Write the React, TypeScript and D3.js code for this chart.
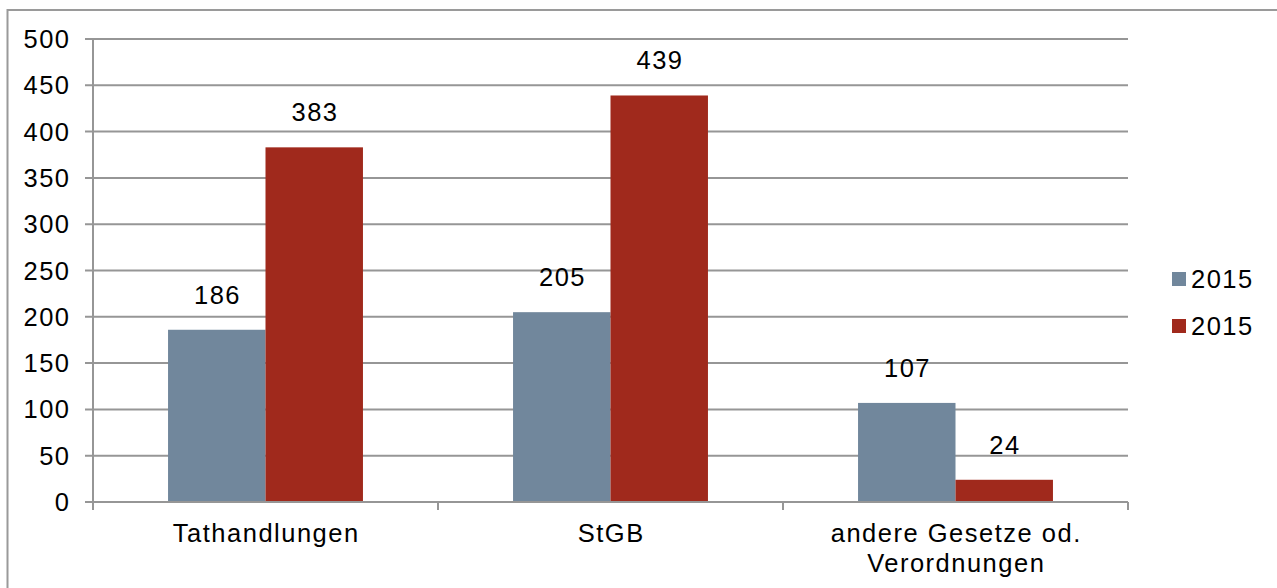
import React from "react";
import * as d3 from "d3";

const categories: string[][] = [["Tathandlungen"], ["StGB"], ["andere Gesetze od.", "Verordnungen"]];
const seriesA: number[] = [186, 205, 107];
const seriesB: number[] = [383, 439, 24];
const seriesNames: string[] = ["2015", "2015"];
const yTicks: number[] = [0, 50, 100, 150, 200, 250, 300, 350, 400, 450, 500];

const colors = ["#71879c", "#a0291c"];
const font = "Arial, 'Liberation Sans', sans-serif";
const ls = 1.5;

export default function App() {
  const W = 1277, H = 588;
  const left = 93, right = 1128, top = 39, bottom = 502;
  const y = d3.scaleLinear().domain([0, 500]).range([bottom, top]);
  const x0 = d3.scaleBand<number>().domain(categories.map((_, i) => i)).range([left, right]).paddingInner(0).paddingOuter(0);
  const x1 = d3.scaleBand<number>().domain([0, 1]).range([0, x0.bandwidth()]).paddingInner(0).paddingOuter(0.77);
  const series = [seriesA, seriesB];
  const catTicks = d3.range(categories.length + 1).map(i => left + i * x0.bandwidth());
  const grid = "#969696";
  return (
    <svg width={W} height={H} style={{ position: "absolute", left: 0, top: 0, background: "#fff" }} fontFamily={font} letterSpacing={ls}>
      <rect x={7.5} y={10} width={W + 20} height={H + 20} fill="#fff" stroke="#9a9a9a" strokeWidth={2} />
      {yTicks.map(t => (
        <g key={t}>
          <line x1={85} x2={right} y1={y(t)} y2={y(t)} stroke={grid} strokeWidth={2} />
          <text x={69 + ls} y={y(t) + 9} fontSize={25.5} textAnchor="end" fill="#000">{t}</text>
        </g>
      ))}
      <line x1={left} x2={left} y1={top} y2={bottom + 8} stroke={grid} strokeWidth={2} />
      {catTicks.map((cx, i) => (
        <line key={i} x1={cx} x2={cx} y1={bottom} y2={bottom + 8} stroke={grid} strokeWidth={2} />
      ))}
      {series.map((vals, si) => (
        <g key={si}>
          {vals.map((v, ci) => {
            const bx = (x0(ci) ?? 0) + (x1(si) ?? 0);
            return (
              <g key={ci}>
                <rect x={bx} y={y(v)} width={x1.bandwidth()} height={bottom - y(v)} fill={colors[si]} />
                <text x={bx + x1.bandwidth() / 2 + ls / 2} y={y(v) - 26} fontSize={25.5} textAnchor="middle" fill="#000">{v}</text>
              </g>
            );
          })}
        </g>
      ))}
      <line x1={85} x2={right} y1={bottom} y2={bottom} stroke={grid} strokeWidth={2} />
      {categories.map((lines, ci) => (
        <text key={ci} x={(x0(ci) ?? 0) + x0.bandwidth() / 2} y={542} fontSize={25.5} textAnchor="middle" fill="#000">
          {lines.map((l, li) => (
            <tspan key={li} x={(x0(ci) ?? 0) + x0.bandwidth() / 2 + ls / 2} dy={li === 0 ? 0 : 30}>{l}</tspan>
          ))}
        </text>
      ))}
      {seriesNames.map((n, i) => (
        <g key={i}>
          <rect x={1172} y={272 + i * 47} width={14} height={14} fill={colors[i]} />
          <text x={1191} y={288 + i * 47} fontSize={25.5} fill="#000">{n}</text>
        </g>
      ))}
    </svg>
  );
}
